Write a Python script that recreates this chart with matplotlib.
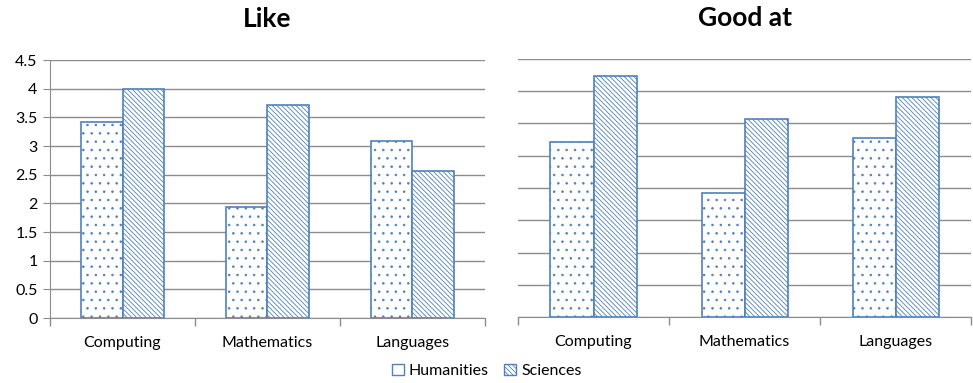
import numpy as np
import matplotlib.pyplot as plt
from matplotlib.patches import Patch

plt.rcParams['font.family'] = ['Lato', 'DejaVu Sans']
plt.rcParams['hatch.linewidth'] = 0.6

SUBJECTS = ["Computing", "Mathematics", "Languages"]
LIKE_HUMANITIES = [3.42, 1.93, 3.08]
LIKE_SCIENCES = [4.0, 3.71, 2.57]
GOOD_HUMANITIES = [2.72, 1.93, 2.77]
GOOD_SCIENCES = [3.74, 3.07, 3.41]

BLUE = "#4f81bd"
GRID = "#8c8c8c"
BAR_W = 0.285
DOTS = ".."
STRIPES = "\\" * 7


def draw_panel(ax, humanities, sciences, title, ymax, show_y):
    x = np.arange(len(SUBJECTS))
    ax.bar(x - BAR_W / 2, humanities, BAR_W, facecolor="white", edgecolor=BLUE,
           hatch=DOTS, linewidth=1.2, zorder=3)
    ax.bar(x + BAR_W / 2, sciences, BAR_W, facecolor="white", edgecolor=BLUE,
           hatch=STRIPES, linewidth=1.2, zorder=3)

    ax.set_xlim(-0.5, len(SUBJECTS) - 0.5)
    ax.set_ylim(0, ymax)
    ax.set_yticks(np.arange(0, ymax + 0.01, 0.5))
    ax.yaxis.grid(True, color=GRID, linewidth=1.0)
    ax.set_axisbelow(True)

    ax.set_xticks(x)
    ax.set_xticklabels(SUBJECTS, fontsize=11.5)
    ax.set_xticks(np.arange(-0.5, len(SUBJECTS)), minor=True)
    ax.tick_params(axis="x", which="major", length=0, pad=13)
    ax.tick_params(axis="x", which="minor", length=6, color=GRID, width=1.0)

    for side in ("top", "right"):
        ax.spines[side].set_visible(False)
    ax.spines["bottom"].set_color(GRID)
    if show_y:
        ax.spines["left"].set_color(GRID)
        ax.tick_params(axis="y", length=5, color=GRID, labelsize=11.5, pad=4)
        ax.set_yticklabels([f"{v:g}" for v in np.arange(0, ymax + 0.01, 0.5)])
    else:
        ax.spines["left"].set_visible(False)
        ax.tick_params(axis="y", length=0, labelleft=False)

    ax.set_title(title, fontsize=19, fontweight="bold", pad=24)


fig = plt.figure(figsize=(9.73, 3.83), dpi=100)
ax1 = fig.add_axes([0.0514, 0.1697, 0.447, 0.6736])
ax2 = fig.add_axes([0.5324, 0.1723, 0.4656, 0.6737])

draw_panel(ax1, LIKE_HUMANITIES, LIKE_SCIENCES, "Like", 4.5, True)
draw_panel(ax2, GOOD_HUMANITIES, GOOD_SCIENCES, "Good at", 4.0, False)

handles = [Patch(facecolor="white", edgecolor=BLUE, linewidth=1.0),
           Patch(facecolor="white", edgecolor=BLUE, hatch=STRIPES, linewidth=1.0)]
fig.legend(handles, ["Humanities", "Sciences"], loc="center", bbox_to_anchor=(0.5, 0.032),
           ncol=2, frameon=False, fontsize=11.5, handlelength=0.75, handleheight=0.75,
           handletextpad=0.3, columnspacing=1.0)

fig.savefig("out.png", dpi=100)
